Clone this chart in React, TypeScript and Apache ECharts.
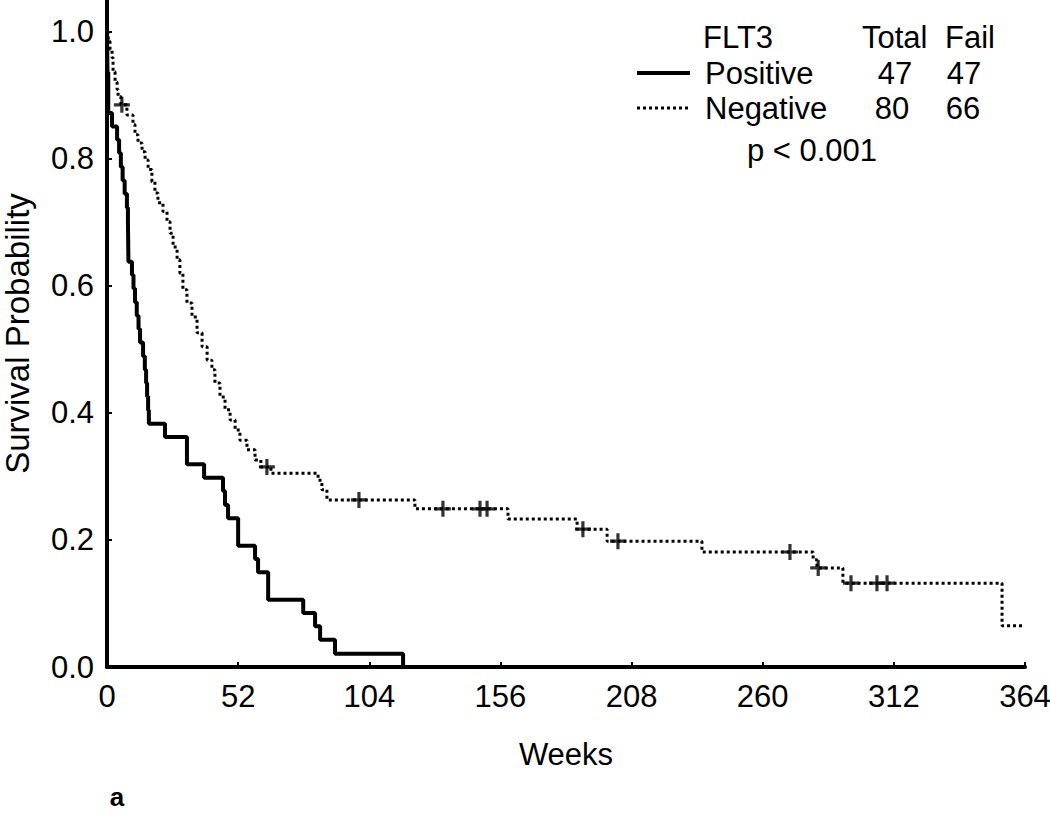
import React, { useEffect, useRef } from "react";
import * as echarts from "echarts";

// Kaplan-Meier steps, FLT3 positive (time in weeks, survival after event)
const posTimes = [0, 0.2, 0.5, 2.0, 4.0, 4.8, 5.5, 6.2, 7.0, 7.9, 8.3, 8.5, 9.9, 10.5, 11.1, 11.8, 12.5, 13.1, 14.3, 15.0, 15.5, 15.9, 16.3, 16.6, 23.0, 31.7, 38.5, 46.0, 46.8, 48.0, 52.0, 58.7, 59.9, 63.9, 77.8, 82.5, 84.5, 90.4, 117.4];
const posSurv = [1.0, 0.936, 0.872, 0.851, 0.830, 0.809, 0.787, 0.766, 0.745, 0.723, 0.702, 0.638, 0.617, 0.596, 0.574, 0.553, 0.532, 0.511, 0.489, 0.468, 0.447, 0.426, 0.404, 0.383, 0.362, 0.319, 0.298, 0.277, 0.255, 0.234, 0.191, 0.170, 0.149, 0.106, 0.085, 0.064, 0.043, 0.021, 0.0];

// FLT3 negative
const negTimes = [0, 0.5, 1.2, 2.0, 2.4, 3.2, 4.0, 4.4, 5.5, 7.9, 10.3, 11.1, 12.3, 13.9, 15.1, 16.3, 17.8, 19.0, 20.2, 22.2, 23.8, 25.0, 26.2, 27.8, 28.9, 30.1, 31.7, 33.7, 35.7, 37.7, 39.7, 41.6, 42.8, 44.8, 46.8, 48.8, 50.8, 52.7, 55.5, 58.7, 61.0, 65.0, 83.7, 85.2, 87.2, 122.1, 159.0, 186.4, 198.3, 235.9, 280.0, 281.5, 291.8, 354.9, 363.0];
const negSurv = [1.0, 0.985, 0.972, 0.959, 0.937, 0.921, 0.909, 0.898, 0.885, 0.869, 0.854, 0.838, 0.825, 0.811, 0.798, 0.783, 0.764, 0.746, 0.731, 0.717, 0.701, 0.683, 0.661, 0.641, 0.620, 0.594, 0.573, 0.551, 0.526, 0.504, 0.483, 0.468, 0.447, 0.425, 0.405, 0.389, 0.373, 0.357, 0.342, 0.326, 0.315, 0.305, 0.294, 0.279, 0.263, 0.249, 0.233, 0.217, 0.198, 0.181, 0.169, 0.156, 0.132, 0.065, 0.065];

// censored observations (negative group)
const censorTimes = [5.9, 63.4, 99.9, 133.2, 147.9, 150.7, 188.7, 202.6, 270.8, 282.0, 295.0, 305.3, 309.3];
const censorSurv = [0.885, 0.315, 0.263, 0.249, 0.249, 0.249, 0.217, 0.198, 0.181, 0.156, 0.132, 0.132, 0.132];

// legend table
const legendHeader = ["FLT3", "Total", "Fail"];
const groupNames = ["Positive", "Negative"];
const groupTotals = ["47", "80"];
const groupFails = ["47", "66"];
const pValueText = "p < 0.001";
const panelLabel = "a";

const xTicks = [0, 52, 104, 156, 208, 260, 312, 364];

const FONT = "'Liberation Sans', Arial, Helvetica, sans-serif";

export default function App() {
  const ref = useRef<HTMLDivElement>(null);
  useEffect(() => {
    if (!ref.current) return;
    const chart = echarts.init(ref.current, null, { renderer: "svg" });
    const posData = posTimes.map((t, i) => [t, posSurv[i]]);
    const negData = negTimes.map((t, i) => [t, negSurv[i]]);
    const cenData = censorTimes.map((t, i) => [t, censorSurv[i]]);
    const txt = (text: string, x: number, y: number, align: string = "left", size = 31, weight = "normal") => ({
      type: "text",
      x,
      y,
      style: {
        text,
        fill: "#000",
        fontSize: size,
        fontFamily: FONT,
        fontWeight: weight,
        textAlign: align,
        textVerticalAlign: "middle",
      },
      z: 10,
    });
    chart.setOption({
      animation: false,
      backgroundColor: "#fff",
      grid: { left: 107, right: 25, top: 0, bottom: 168, containLabel: false, outerBoundsMode: "none" },
      xAxis: {
        type: "value",
        min: xTicks[0],
        max: xTicks[xTicks.length - 1],
        interval: 52,
        name: "Weeks",
        nameLocation: "middle",
        nameGap: 72,
        nameTextStyle: { fontSize: 31, color: "#000", fontFamily: FONT },
        axisLine: { show: true, onZero: false, lineStyle: { color: "#000", width: 4 } },
        axisTick: { show: true, inside: true, length: 5, lineStyle: { color: "#000", width: 2 } },
        axisLabel: { fontSize: 31, color: "#000", fontFamily: FONT, margin: 14 },
        splitLine: { show: false },
      },
      yAxis: {
        type: "value",
        min: 0,
        max: 1.05,
        interval: 0.2,
        name: "Survival Probability",
        nameLocation: "middle",
        nameGap: 74,
        nameTextStyle: { fontSize: 33, lineHeight: 32, color: "#000", fontFamily: FONT },
        axisLine: { show: true, onZero: false, lineStyle: { color: "#000", width: 4 } },
        axisTick: { show: true, inside: true, length: 5, lineStyle: { color: "#000", width: 2 } },
        axisLabel: {
          fontSize: 31,
          color: "#000",
          fontFamily: FONT,
          margin: 13,
          showMaxLabel: false,
          formatter: (v: number) => v.toFixed(1),
        },
        splitLine: { show: false },
      },
      series: [
        {
          name: "Positive",
          type: "line",
          step: "end",
          data: posData,
          symbol: "none",
          lineStyle: { color: "#000", width: 4, type: "solid" },
          z: 3,
        },
        {
          name: "Negative",
          type: "line",
          step: "end",
          data: negData,
          symbol: "none",
          lineStyle: { color: "#000", width: 3, type: [3, 3] },
          z: 3,
        },
        {
          name: "Censored",
          type: "scatter",
          data: cenData,
          symbol: "path://M6,0H9V6H15V9H9V15H6V9H0V6H6Z",
          symbolSize: 16,
          itemStyle: { color: "#000" },
          z: 4,
        },
      ],
      graphic: [
        txt(legendHeader[0], 703, 37),
        txt(legendHeader[1], 862, 37),
        txt(legendHeader[2], 945, 37),
        {
          type: "line",
          shape: { x1: 637, y1: 73, x2: 690, y2: 73 },
          style: { stroke: "#000", lineWidth: 4 },
          z: 10,
        },
        txt(groupNames[0], 705, 73),
        txt(groupTotals[0], 895, 73, "center"),
        txt(groupFails[0], 964, 73, "center"),
        {
          type: "line",
          shape: { x1: 637, y1: 108, x2: 690, y2: 108 },
          style: { stroke: "#000", lineWidth: 3, lineDash: [3, 3] },
          z: 10,
        },
        txt(groupNames[1], 705, 108),
        txt(groupTotals[1], 892, 108, "center"),
        txt(groupFails[1], 963, 108, "center"),
        txt(pValueText, 812, 150, "center"),
        txt(panelLabel, 117, 797, "center", 26, "bold"),
      ],
    });
    return () => chart.dispose();
  }, []);
  return (
    <div
      ref={ref}
      style={{ position: "absolute", left: 0, top: 0, width: 1050, height: 835, background: "#fff" }}
    />
  );
}
